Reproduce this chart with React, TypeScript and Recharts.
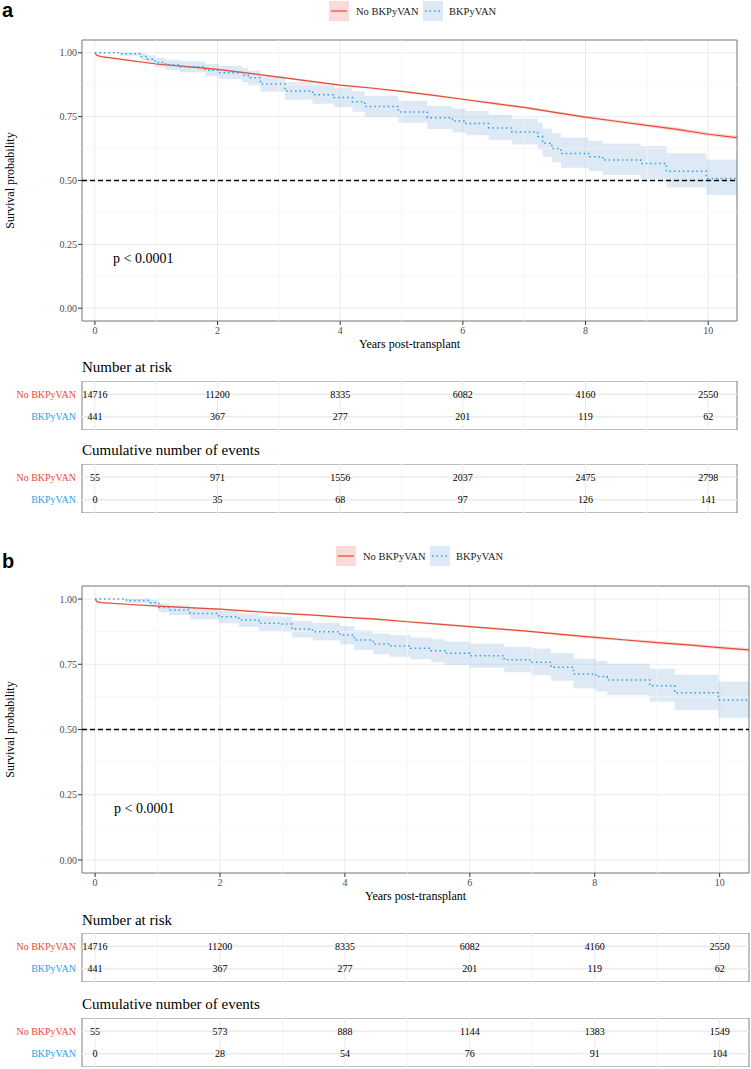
import React from 'react';
import {
  ComposedChart,
  Line,
  Area,
  Scatter,
  XAxis,
  YAxis,
  CartesianGrid,
  ReferenceLine,
  ReferenceArea,
} from 'recharts';

const RED = '#E64B35';
const BLUE = '#2E9FDF';
const SERIF = '"Liberation Serif", "Times New Roman", serif';
const SANS = '"Liberation Sans", Arial, sans-serif';

const groupNames = ['No BKPyVAN', 'BKPyVAN'];
const xTicks = [0, 2, 4, 6, 8, 10];
const xMinor = [1, 3, 5, 7, 9];
const yTicks = [0, 0.25, 0.5, 0.75, 1];
const yMinor = [0.125, 0.375, 0.625, 0.875];
const X_DOMAIN: [number, number] = [-0.21, 10.47];
const Y_DOMAIN: [number, number] = [-0.05, 1.05];

// ---- panel a (KM curves) ----
const redTimesA = [0, 0.03, 0.1, 0.5, 1, 1.5, 2, 2.5, 3, 3.5, 4, 4.5, 5, 5.5, 6, 6.5, 7, 7.5, 8, 8.5, 9, 9.5, 10, 10.47];
const redSurvA = [1, 0.99, 0.985, 0.972, 0.956, 0.946, 0.935, 0.92, 0.905, 0.889, 0.873, 0.862, 0.849, 0.834, 0.818, 0.802, 0.786, 0.767, 0.748, 0.732, 0.716, 0.7, 0.681, 0.668];
const redLowA = [1, 0.988, 0.983, 0.97, 0.954, 0.943, 0.932, 0.917, 0.902, 0.885, 0.869, 0.858, 0.845, 0.83, 0.814, 0.797, 0.781, 0.762, 0.743, 0.726, 0.71, 0.693, 0.674, 0.66];
const redHighA = [1, 0.992, 0.987, 0.974, 0.958, 0.949, 0.938, 0.923, 0.908, 0.893, 0.877, 0.866, 0.853, 0.838, 0.822, 0.807, 0.791, 0.772, 0.753, 0.738, 0.722, 0.707, 0.688, 0.676];

const blueTimesA = [0, 0.41, 0.75, 0.85, 0.98, 1.15, 1.38, 1.8, 2.02, 2.4, 2.5, 2.7, 3.1, 3.55, 3.9, 4.2, 4.4, 4.95, 5.42, 5.83, 6.05, 6.42, 6.8, 7.22, 7.3, 7.45, 7.6, 8.05, 8.28, 8.9, 9.32, 9.97, 10.47];
const blueSurvA = [1, 0.996, 0.985, 0.975, 0.962, 0.953, 0.945, 0.932, 0.922, 0.912, 0.902, 0.878, 0.85, 0.836, 0.825, 0.808, 0.79, 0.768, 0.746, 0.733, 0.723, 0.706, 0.69, 0.672, 0.646, 0.625, 0.606, 0.593, 0.58, 0.567, 0.536, 0.508, 0.508];
const blueLowA = [1, 0.988, 0.973, 0.96, 0.944, 0.933, 0.923, 0.908, 0.897, 0.885, 0.873, 0.847, 0.816, 0.8, 0.788, 0.769, 0.75, 0.726, 0.702, 0.688, 0.677, 0.658, 0.641, 0.621, 0.593, 0.571, 0.55, 0.536, 0.522, 0.507, 0.473, 0.443, 0.443];
const blueHighA = [1, 1, 0.997, 0.99, 0.98, 0.973, 0.967, 0.956, 0.948, 0.94, 0.931, 0.91, 0.885, 0.873, 0.864, 0.849, 0.832, 0.812, 0.792, 0.781, 0.772, 0.757, 0.743, 0.727, 0.704, 0.685, 0.668, 0.656, 0.645, 0.634, 0.607, 0.582, 0.582];

// ---- panel b (KM curves) ----
const redTimesB = [0, 0.03, 0.1, 0.5, 1, 1.5, 2, 2.5, 3, 3.5, 4, 4.5, 5, 5.5, 6, 6.5, 7, 7.5, 8, 8.5, 9, 9.5, 10, 10.47];
const redSurvB = [1, 0.99, 0.986, 0.98, 0.973, 0.967, 0.961, 0.953, 0.945, 0.938, 0.93, 0.923, 0.913, 0.904, 0.894, 0.885, 0.875, 0.864, 0.853, 0.843, 0.833, 0.824, 0.814, 0.805];
const redLowB = [1, 0.988, 0.984, 0.978, 0.971, 0.965, 0.958, 0.95, 0.942, 0.935, 0.927, 0.919, 0.909, 0.9, 0.89, 0.881, 0.871, 0.859, 0.848, 0.838, 0.827, 0.818, 0.808, 0.798];
const redHighB = [1, 0.992, 0.988, 0.982, 0.975, 0.969, 0.964, 0.956, 0.948, 0.941, 0.933, 0.927, 0.917, 0.908, 0.898, 0.889, 0.879, 0.869, 0.858, 0.848, 0.839, 0.83, 0.82, 0.812];

const blueTimesB = [0, 0.5, 0.88, 1.02, 1.18, 1.52, 1.98, 2.3, 2.62, 2.98, 3.15, 3.48, 3.92, 4.15, 4.45, 4.72, 5.05, 5.38, 5.6, 6.0, 6.55, 6.98, 7.3, 7.66, 8.02, 8.2, 8.88, 9.28, 9.98, 10.47];
const blueSurvB = [1, 0.994, 0.986, 0.968, 0.958, 0.945, 0.932, 0.92, 0.907, 0.904, 0.885, 0.875, 0.862, 0.843, 0.828, 0.82, 0.811, 0.802, 0.792, 0.783, 0.767, 0.758, 0.739, 0.713, 0.703, 0.69, 0.668, 0.641, 0.613, 0.613];
const blueLowB = [1, 0.985, 0.973, 0.95, 0.938, 0.922, 0.907, 0.893, 0.878, 0.874, 0.853, 0.841, 0.826, 0.805, 0.788, 0.779, 0.769, 0.758, 0.747, 0.737, 0.719, 0.708, 0.687, 0.657, 0.646, 0.631, 0.606, 0.575, 0.545, 0.545];
const blueHighB = [1, 1, 0.996, 0.983, 0.976, 0.966, 0.955, 0.945, 0.934, 0.932, 0.916, 0.908, 0.897, 0.88, 0.868, 0.861, 0.853, 0.846, 0.837, 0.83, 0.817, 0.81, 0.793, 0.771, 0.763, 0.752, 0.733, 0.71, 0.684, 0.684];

// ---- risk tables ----
const tableTimes = [0, 2, 4, 6, 8, 10];
const atRiskNo = [14716, 11200, 8335, 6082, 4160, 2550];
const atRiskBk = [441, 367, 277, 201, 119, 62];
const eventsNoA = [55, 971, 1556, 2037, 2475, 2798];
const eventsBkA = [0, 35, 68, 97, 126, 141];
const eventsNoB = [55, 573, 888, 1144, 1383, 1549];
const eventsBkB = [0, 28, 54, 76, 91, 104];

const W = 751;
const PLOT_LEFT = 82;

function curve(times: number[], surv: number[], low: number[], high: number[]) {
  return times.map((t, i) => ({ t, s: surv[i], band: [low[i], high[i]] }));
}

const tickStyle = { fontSize: 10, fill: '#4D4D4D', fontFamily: SERIF };

function KMPlot({ top, plotTop, plotBottom, plotRight, red, blue }: any) {
  const height = plotBottom - top + 20;
  return (
    <div style={{ position: 'absolute', left: 0, top }}>
      <ComposedChart
        width={W}
        height={height}
        margin={{ top: plotTop - top, right: W - plotRight, bottom: 0, left: PLOT_LEFT - 40 }}
      >
        <CartesianGrid stroke="#EBEBEB" strokeWidth={1} />
        {xMinor.map((v) => (
          <ReferenceLine key={'mx' + v} x={v} stroke="#F5F5F5" strokeWidth={0.8} />
        ))}
        {yMinor.map((v) => (
          <ReferenceLine key={'my' + v} y={v} stroke="#F5F5F5" strokeWidth={0.8} />
        ))}
        <XAxis
          type="number"
          dataKey="t"
          domain={X_DOMAIN}
          ticks={xTicks}
          allowDataOverflow
          axisLine={false}
          tickLine={{ stroke: '#333333' }}
          tickSize={4}
          tickMargin={2}
          height={20}
          tick={tickStyle}
        />
        <YAxis
          type="number"
          domain={Y_DOMAIN}
          ticks={yTicks}
          allowDataOverflow
          axisLine={false}
          tickLine={{ stroke: '#333333' }}
          tickSize={4}
          tickMargin={1}
          width={40}
          tick={tickStyle}
          tickFormatter={(v: number) => v.toFixed(2)}
        />
        <Area
          data={blue}
          dataKey="band"
          type="stepAfter"
          stroke="none"
          fill="#9EC2E6"
          fillOpacity={0.35}
          isAnimationActive={false}
        />
        <Area
          data={red}
          dataKey="band"
          type="linear"
          stroke="none"
          fill={RED}
          fillOpacity={0.2}
          isAnimationActive={false}
        />
        <Line
          data={red}
          dataKey="s"
          type="linear"
          stroke={RED}
          strokeWidth={1.2}
          dot={false}
          isAnimationActive={false}
        />
        <Line
          data={blue}
          dataKey="s"
          type="stepAfter"
          stroke={BLUE}
          strokeWidth={1.5}
          strokeDasharray="1.5 3"
          dot={false}
          isAnimationActive={false}
        />
        <ReferenceLine y={0.5} stroke="#000000" strokeWidth={1.4} strokeDasharray="5 3" />
        <ReferenceArea
          x1={X_DOMAIN[0]}
          x2={X_DOMAIN[1]}
          y1={Y_DOMAIN[0]}
          y2={Y_DOMAIN[1]}
          fill="none"
          stroke="#7F7F7F"
          strokeWidth={1}
        />
      </ComposedChart>
    </div>
  );
}

function RowTick(props: any) {
  const { x, y, payload } = props;
  const idx = payload.value === 2 ? 0 : 1;
  return (
    <text
      x={x}
      y={y}
      textAnchor="end"
      dominantBaseline="central"
      fontSize={10}
      fontFamily={SERIF}
      fill={idx === 0 ? RED : BLUE}
    >
      {groupNames[idx]}
    </text>
  );
}

function CellText(props: any) {
  const { cx, cy, payload } = props;
  return (
    <text x={cx} y={cy} textAnchor="middle" dominantBaseline="central" fontSize={10} fontFamily={SERIF} fill="#000">
      {payload.n}
    </text>
  );
}

function RiskTable({ top, plotRight, first, second }: any) {
  const cells = [
    ...tableTimes.map((t, i) => ({ t, row: 2, n: first[i] })),
    ...tableTimes.map((t, i) => ({ t, row: 1, n: second[i] })),
  ];
  return (
    <div style={{ position: 'absolute', left: 0, top }}>
      <ComposedChart width={W} height={49} margin={{ top: 0, right: W - plotRight, bottom: 0, left: 0 }}>
        {[0, 1, 2, 3, 4, 5, 6, 7, 8, 9, 10].map((v) => (
          <ReferenceLine key={'tx' + v} x={v} stroke={v % 2 === 0 ? '#EBEBEB' : '#F5F5F5'} strokeWidth={1} />
        ))}
        <ReferenceLine y={1} stroke="#EBEBEB" strokeWidth={1.5} />
        <ReferenceLine y={2} stroke="#EBEBEB" strokeWidth={1.5} />
        <XAxis type="number" dataKey="t" domain={X_DOMAIN} allowDataOverflow hide />
        <YAxis
          type="number"
          dataKey="row"
          domain={[0.4, 2.6]}
          ticks={[1, 2]}
          interval={0}
          width={PLOT_LEFT}
          axisLine={false}
          tickLine={false}
          tickSize={0}
          tickMargin={6}
          tick={<RowTick />}
        />
        <Scatter data={cells} dataKey="row" shape={<CellText />} isAnimationActive={false} />
        <ReferenceArea
          x1={X_DOMAIN[0]}
          x2={X_DOMAIN[1]}
          y1={0.4}
          y2={2.6}
          fill="none"
          stroke="#7F7F7F"
          strokeWidth={1}
        />
      </ComposedChart>
    </div>
  );
}

function Legend2({ x, y }: { x: number; y: number }) {
  return (
    <g>
      <rect x={x} y={y - 10} width={20} height={20} fill={RED} fillOpacity={0.2} />
      <line x1={x + 2} x2={x + 18} y1={y} y2={y} stroke={RED} strokeWidth={1.2} />
      <text x={x + 27} y={y} dominantBaseline="central" fontSize={10.5} fontFamily={SERIF} fill="#1A1A1A">
        {groupNames[0]}
      </text>
      <rect x={x + 94} y={y - 10} width={20} height={20} fill="#9EC2E6" fillOpacity={0.35} />
      <line x1={x + 96} x2={x + 112} y1={y} y2={y} stroke={BLUE} strokeWidth={1.5} strokeDasharray="1.5 3" />
      <text x={x + 120} y={y} dominantBaseline="central" fontSize={10.5} fontFamily={SERIF} fill="#1A1A1A">
        {groupNames[1]}
      </text>
    </g>
  );
}

function Texts() {
  const title = { fontFamily: SERIF, fill: '#000' } as any;
  return (
    <svg width={W} height={1069} style={{ position: 'absolute', left: 0, top: 0, pointerEvents: 'none' }}>
      {/* panel a */}
      <text x={2} y={17} fontSize={20} fontWeight="bold" fontFamily={SANS}>a</text>
      <Legend2 x={329} y={11} />
      <text transform="translate(10,180.5) rotate(-90)" textAnchor="middle" dominantBaseline="central" fontSize={12} {...title}>
        Survival probability
      </text>
      <text x={409.5} y={344} textAnchor="middle" dominantBaseline="central" fontSize={12} {...title}>
        Years post-transplant
      </text>
      <text x={113} y={258} dominantBaseline="central" fontSize={14} {...title}>p &lt; 0.0001</text>
      <text x={82} y={367} dominantBaseline="central" fontSize={15} {...title}>Number at risk</text>
      <text x={82} y={450} dominantBaseline="central" fontSize={15} {...title}>Cumulative number of events</text>

      {/* panel b */}
      <text x={2} y={568} fontSize={20} fontWeight="bold" fontFamily={SANS}>b</text>
      <Legend2 x={336} y={556} />
      <text transform="translate(10,729.5) rotate(-90)" textAnchor="middle" dominantBaseline="central" fontSize={12} {...title}>
        Survival probability
      </text>
      <text x={415.5} y={896} textAnchor="middle" dominantBaseline="central" fontSize={12} {...title}>
        Years post-transplant
      </text>
      <text x={114} y={808} dominantBaseline="central" fontSize={14} {...title}>p &lt; 0.0001</text>
      <text x={82} y={920} dominantBaseline="central" fontSize={15} {...title}>Number at risk</text>
      <text x={82} y={1004} dominantBaseline="central" fontSize={15} {...title}>Cumulative number of events</text>
    </svg>
  );
}

export default function App() {
  const redA = curve(redTimesA, redSurvA, redLowA, redHighA);
  const blueA = curve(blueTimesA, blueSurvA, blueLowA, blueHighA);
  const redB = curve(redTimesB, redSurvB, redLowB, redHighB);
  const blueB = curve(blueTimesB, blueSurvB, blueLowB, blueHighB);

  return (
    <div style={{ position: 'absolute', left: 0, top: 0, width: W, height: 1069, background: '#fff' }}>
      <KMPlot top={30} plotTop={40} plotBottom={321} plotRight={737} red={redA} blue={blueA} />
      <RiskTable top={381} plotRight={737} first={atRiskNo} second={atRiskBk} />
      <RiskTable top={464} plotRight={737} first={eventsNoA} second={eventsBkA} />

      <KMPlot top={576} plotTop={586} plotBottom={873} plotRight={749} red={redB} blue={blueB} />
      <RiskTable top={933} plotRight={749} first={atRiskNo} second={atRiskBk} />
      <RiskTable top={1018} plotRight={749} first={eventsNoB} second={eventsBkB} />

      <Texts />
    </div>
  );
}
